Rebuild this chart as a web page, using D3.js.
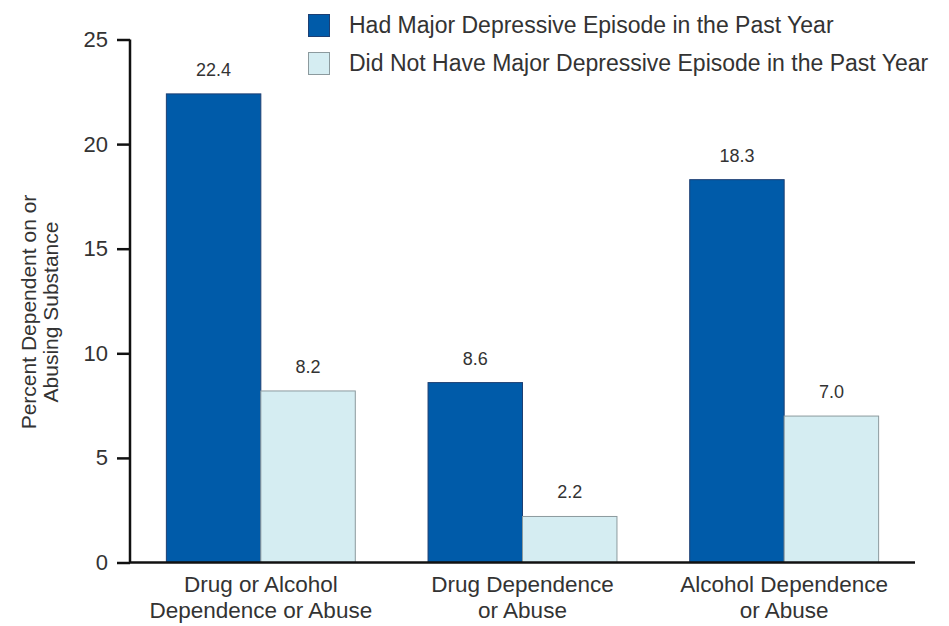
<!DOCTYPE html>
<html>
<head>
<meta charset="utf-8">
<script src="https://cdn.jsdelivr.net/npm/d3@7"></script>
<style>
  body { margin: 0; background: #fff; }
  text { font-family: "Liberation Sans", Arial, sans-serif; fill: #333; }
</style>
</head>
<body>
<script>
const width = 949;
const height = 626;

const categories = [
  ["Drug or Alcohol", "Dependence or Abuse"],
  ["Drug Dependence", "or Abuse"],
  ["Alcohol Dependence", "or Abuse"]
];
const seriesNames = [
  "Had Major Depressive Episode in the Past Year",
  "Did Not Have Major Depressive Episode in the Past Year"
];
const hadMDE = [22.4, 8.6, 18.3];
const noMDE = [8.2, 2.2, 7.0];
const yTicks = [0, 5, 10, 15, 20, 25];

const colors = ["#005ba9", "#d5edf2"];
const strokes = ["#1d3f73", "#8c9a9e"];

const svg = d3.select("body").append("svg")
    .attr("width", width)
    .attr("height", height);

const x0 = d3.scaleBand()
    .domain(d3.range(categories.length))
    .range([130, 915])
    .paddingInner(0.278)
    .paddingOuter(0.139);

const x1 = d3.scaleBand()
    .domain([0, 1])
    .range([0, x0.bandwidth()]);

const y = d3.scaleLinear()
    .domain([0, 25])
    .range([562.5, 39.5]);

// bars
const series = [hadMDE, noMDE];
series.forEach((vals, s) => {
    svg.selectAll(".bar" + s)
        .data(vals)
        .enter()
        .append("rect")
        .attr("x", (d, i) => x0(i) + x1(s))
        .attr("y", d => y(d))
        .attr("width", x1.bandwidth())
        .attr("height", d => y(0) - y(d))
        .attr("fill", colors[s])
        .attr("stroke", strokes[s])
        .attr("stroke-width", 1);

    svg.selectAll(".lab" + s)
        .data(vals)
        .enter()
        .append("text")
        .attr("x", (d, i) => x0(i) + x1(s) + x1.bandwidth() / 2)
        .attr("y", d => y(d) - 18)
        .attr("text-anchor", "middle")
        .style("font-size", "18px")
        .text(d => d.toFixed(1));
});

// y axis
const yAxis = svg.append("g")
    .attr("transform", "translate(130,0)")
    .call(d3.axisLeft(y).tickValues(yTicks).tickSize(13).tickPadding(9));
yAxis.select(".domain").attr("stroke", "#111").attr("stroke-width", 2.5)
    .attr("d", `M0,${y(25)}V${y(0)}`);
yAxis.selectAll(".tick line").attr("stroke", "#111").attr("stroke-width", 2.5);
yAxis.selectAll(".tick text")
    .style("font-size", "22px")
    .style("font-family", "'Liberation Sans', Arial, sans-serif")
    .attr("fill", "#333");

// x axis line
svg.append("line")
    .attr("x1", 130).attr("x2", 915)
    .attr("y1", y(0)).attr("y2", y(0))
    .attr("stroke", "#111").attr("stroke-width", 2.5);

// category labels
categories.forEach((lines, i) => {
    const t = svg.append("text")
        .attr("x", x0(i) + x0.bandwidth() / 2)
        .attr("y", 592)
        .attr("text-anchor", "middle")
        .style("font-size", "22.5px");
    lines.forEach((ln, k) => {
        t.append("tspan")
            .attr("x", x0(i) + x0.bandwidth() / 2)
            .attr("dy", k === 0 ? 0 : 26)
            .text(ln);
    });
});

// y title
const yt = svg.append("text")
    .attr("transform", "translate(36,312) rotate(-90)")
    .attr("text-anchor", "middle")
    .style("font-size", "21px");
yt.append("tspan").attr("x", 0).attr("dy", 0).text("Percent Dependent on or");
yt.append("tspan").attr("x", 0).attr("dy", 22).text("Abusing Substance");

// legend
seriesNames.forEach((name, s) => {
    svg.append("rect")
        .attr("x", 308.5).attr("y", 14.5 + s * 38)
        .attr("width", 21).attr("height", 22)
        .attr("fill", colors[s])
        .attr("stroke", strokes[s]);
    svg.append("text")
        .attr("x", 349).attr("y", 33 + s * 38)
        .style("font-size", "23px")
        .text(name);
});
</script>
</body>
</html>
